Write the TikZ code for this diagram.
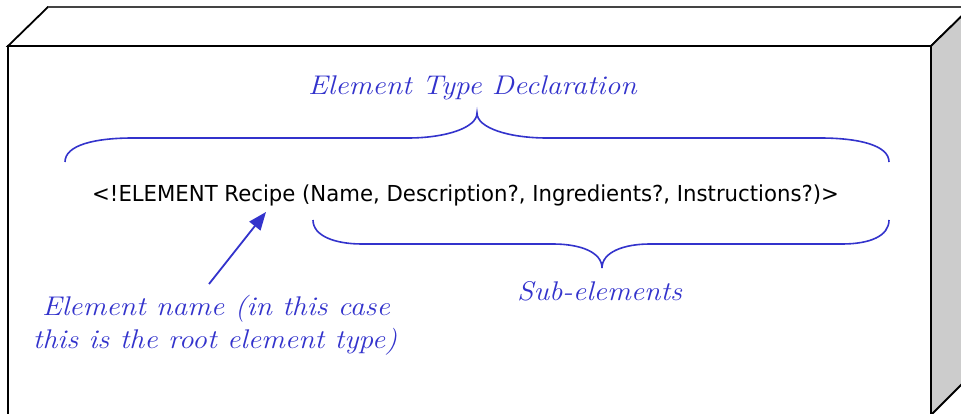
\documentclass[tikz,border=0pt]{standalone}
\usepackage{fontspec}
\usetikzlibrary{arrows.meta}
\newfontfamily\codefont{DejaVu Sans}
\definecolor{noteblue}{HTML}{3333CC}
\definecolor{sidegray}{HTML}{CCCCCC}
\definecolor{rimgray}{HTML}{444444}
% widened italic and slightly narrowed code text
\newcommand{\widenote}[1]{\scalebox{1.10}[1]{#1}}
\newcommand{\narrowcode}[1]{\scalebox{0.965}[1]{#1}}
\begin{document}
\begin{tikzpicture}[x=1pt,y=-1pt,
  edge/.style={draw=black,line width=1.8pt,line join=miter},
  bracepath/.style={draw=noteblue,line width=1.6pt},
  note/.style={text=noteblue,font=\fontsize{27}{32}\selectfont\itshape,inner sep=0pt},
  code/.style={text=black,font=\fontsize{22}{26}\selectfont\codefont,inner sep=0pt},
  pointer/.style={draw=noteblue,line width=1.8pt,-{Triangle[length=18pt,width=14pt]}}]
\useasboundingbox (0,0) rectangle (961,414);
\clip (0,0) rectangle (961,414);
% block: top face, side face, front face
\filldraw[edge,fill=white] (8,46) -- (48,7) -- (971,7) -- (931,46) -- cycle;
\draw[rimgray,line width=2pt] (48,7) -- (971,7);
\filldraw[edge,fill=sidegray] (931,46) -- (971,7) -- (971,375) -- (931,415) -- cycle;
\filldraw[edge,fill=white] (8,46) rectangle (931,416);
% labels
\node[note,anchor=base west] (etd) at (308,95) {\widenote{Element Type Declaration}};
\node[code,anchor=base west] (decl) at (92,202) {\narrowcode{<!ELEMENT Recipe (Name, Description?, Ingredients?, Instructions?)>}};
\node[note,anchor=base west] (subs) at (517,300) {\widenote{Sub-elements}};
\node[note,anchor=base] (name1) at (216,315) {\widenote{Element name (in this case}};
\node[note,anchor=base] (name2) at (215,348) {\widenote{this is the root element type)}};
% braces
\draw[bracepath] (65,162) .. controls (65,145) and (95,138) .. (133,138) -- (408,138)
  .. controls (445,138) and (477,128) .. (477,113)
  .. controls (477,128) and (509,138) .. (547,138) -- (820,138)
  .. controls (858,138) and (889,145) .. (889,162);
\draw[bracepath] (313,220) .. controls (313,236) and (335,244) .. (362,244) -- (553,244)
  .. controls (580,244) and (602,252) .. (602,268)
  .. controls (602,252) and (624,244) .. (650,244) -- (842,244)
  .. controls (870,244) and (889,236) .. (889,220);
% pointer to the element name
\coordinate (tail) at (209,284);
\coordinate (tip) at (266,212);
\draw[pointer] (tail) -- (tip);
\end{tikzpicture}
\end{document}
